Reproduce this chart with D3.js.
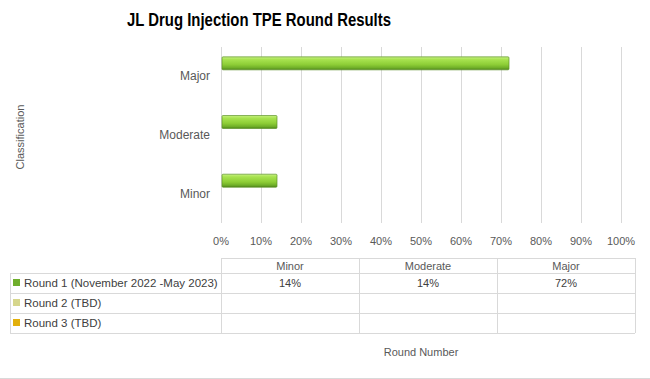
<!DOCTYPE html>
<html>
<head>
<meta charset="utf-8">
<script src="https://cdn.jsdelivr.net/npm/d3@7"></script>
<style>
  body { margin: 0; background: #fff; }
  svg { display: block; font-family: "Liberation Sans", Arial, sans-serif; }
</style>
</head>
<body>
<svg id="chart"></svg>
<script>
// data
const categories = ["Major", "Moderate", "Minor"];           // top to bottom on the chart
const tableCategories = ["Minor", "Moderate", "Major"];      // column order in the data table
const seriesNames = ["Round 1 (November 2022 -May 2023)", "Round 2 (TBD)", "Round 3 (TBD)"];
const round1 = { Minor: 0.14, Moderate: 0.14, Major: 0.72 };
const round2 = {};
const round3 = {};
const ticks = [0, 0.1, 0.2, 0.3, 0.4, 0.5, 0.6, 0.7, 0.8, 0.9, 1.0];

const seriesValues = [round1, round2, round3];

const width = 650, height = 379;
const svg = d3.select("#chart").attr("width", width).attr("height", height);

const defs = svg.append("defs");
const grad = defs.append("linearGradient").attr("id", "barGrad")
    .attr("x1", 0).attr("y1", 0).attr("x2", 0).attr("y2", 1);
[["0%", "#c8f283"], ["20%", "#a8e350"], ["60%", "#8dcd36"], ["85%", "#6fae28"], ["100%", "#4c8418"]]
    .forEach(s => grad.append("stop").attr("offset", s[0]).attr("stop-color", s[1]));

const keyColors = ["#6fae2c", "#d6d68c", "#e2b00c"];

// scales
const x = d3.scaleLinear().domain([0, 1]).range([221, 621]);
const y = d3.scaleBand().domain(categories).range([47, 223]);
const ySeries = d3.scaleBand().domain(seriesNames).range([0, y.bandwidth()]).paddingOuter(0.76);

// title (Calibri-like: tall and narrow)
svg.append("text")
    .attr("x", 259).attr("y", 26)
    .attr("text-anchor", "middle")
    .attr("font-weight", "bold")
    .attr("font-size", 18.5)
    .attr("fill", "#000")
    .attr("textLength", 264)
    .attr("lengthAdjust", "spacingAndGlyphs")
    .text("JL Drug Injection TPE Round Results");

// gridlines
svg.append("g").selectAll("line").data(ticks).enter().append("line")
    .attr("x1", d => x(d)).attr("x2", d => x(d))
    .attr("y1", 47).attr("y2", 223)
    .attr("stroke", "#d9d9d9").attr("stroke-width", 1)
    .attr("shape-rendering", "crispEdges");

// tick labels
svg.append("g").selectAll("text").data(ticks).enter().append("text")
    .attr("x", d => x(d)).attr("y", 245)
    .attr("text-anchor", "middle")
    .attr("font-size", 11).attr("fill", "#595959")
    .text(d => d3.format(".0%")(d));

// category labels
svg.append("g").selectAll("text").data(categories).enter().append("text")
    .attr("x", 210).attr("y", d => y(d) + y.bandwidth() / 2 + 4)
    .attr("text-anchor", "end")
    .attr("font-size", 12).attr("fill", "#595959")
    .text(d => d);

// axis title
svg.append("text")
    .attr("transform", "translate(24,137) rotate(-90)")
    .attr("text-anchor", "middle")
    .attr("font-size", 11).attr("fill", "#595959")
    .text("Classification");

// bars
seriesNames.forEach((s, i) => {
    const vals = seriesValues[i];
    svg.append("g").selectAll("rect")
        .data(categories.filter(c => vals[c] != null))
        .enter().append("rect")
        .attr("x", x(0) + 1)
        .attr("y", c => y(c) + ySeries(s))
        .attr("width", c => x(vals[c]) - x(0) - 1)
        .attr("height", ySeries.bandwidth())
        .attr("rx", 1)
        .attr("fill", "url(#barGrad)")
        .attr("stroke", "#5f922a").attr("stroke-width", 0.7);
});

// data table
const tableTop = 258, headerH = 15, rowH = 20;
const colX = [10, 221, 359, 497, 635];
const tableBottom = tableTop + headerH + rowH * 3;
const lineColor = "#d9d9d9";
const tbl = svg.append("g");

// horizontal lines
tbl.append("line").attr("x1", colX[1]).attr("x2", colX[4])
    .attr("y1", tableTop).attr("y2", tableTop).attr("stroke", lineColor)
    .attr("shape-rendering", "crispEdges");
d3.range(4).forEach(r => {
    const yy = tableTop + headerH + rowH * r;
    tbl.append("line").attr("x1", colX[0]).attr("x2", colX[4])
        .attr("y1", yy).attr("y2", yy).attr("stroke", lineColor)
        .attr("shape-rendering", "crispEdges");
});
// vertical lines
colX.forEach((cx, i) => {
    tbl.append("line").attr("x1", cx).attr("x2", cx)
        .attr("y1", i === 0 ? tableTop + headerH : tableTop).attr("y2", tableBottom)
        .attr("stroke", lineColor).attr("shape-rendering", "crispEdges");
});

// header
tableCategories.forEach((c, i) => {
    tbl.append("text")
        .attr("x", (colX[i + 1] + colX[i + 2]) / 2).attr("y", tableTop + 11.5)
        .attr("text-anchor", "middle")
        .attr("font-size", 11).attr("fill", "#595959")
        .text(c);
});

// rows
seriesNames.forEach((s, r) => {
    const ry = tableTop + headerH + rowH * r;
    tbl.append("rect")
        .attr("x", 13).attr("y", ry + 6).attr("width", 7).attr("height", 7)
        .attr("fill", keyColors[r]);
    tbl.append("text")
        .attr("x", 24).attr("y", ry + 14)
        .attr("font-size", 11.5).attr("fill", "#404040")
        .text(s);
    tableCategories.forEach((c, i) => {
        const v = seriesValues[r][c];
        if (v == null) return;
        tbl.append("text")
            .attr("x", (colX[i + 1] + colX[i + 2]) / 2).attr("y", ry + 14)
            .attr("text-anchor", "middle")
            .attr("font-size", 11).attr("fill", "#404040")
            .text(d3.format(".0%")(v));
    });
});

// x axis title
svg.append("text")
    .attr("x", 421).attr("y", 356)
    .attr("text-anchor", "middle")
    .attr("font-size", 11).attr("fill", "#595959")
    .text("Round Number");

// bottom frame edge
svg.append("line").attr("x1", 0).attr("x2", width)
    .attr("y1", 378).attr("y2", 378)
    .attr("stroke", "#d9d9d9").attr("shape-rendering", "crispEdges");
</script>
</body>
</html>
